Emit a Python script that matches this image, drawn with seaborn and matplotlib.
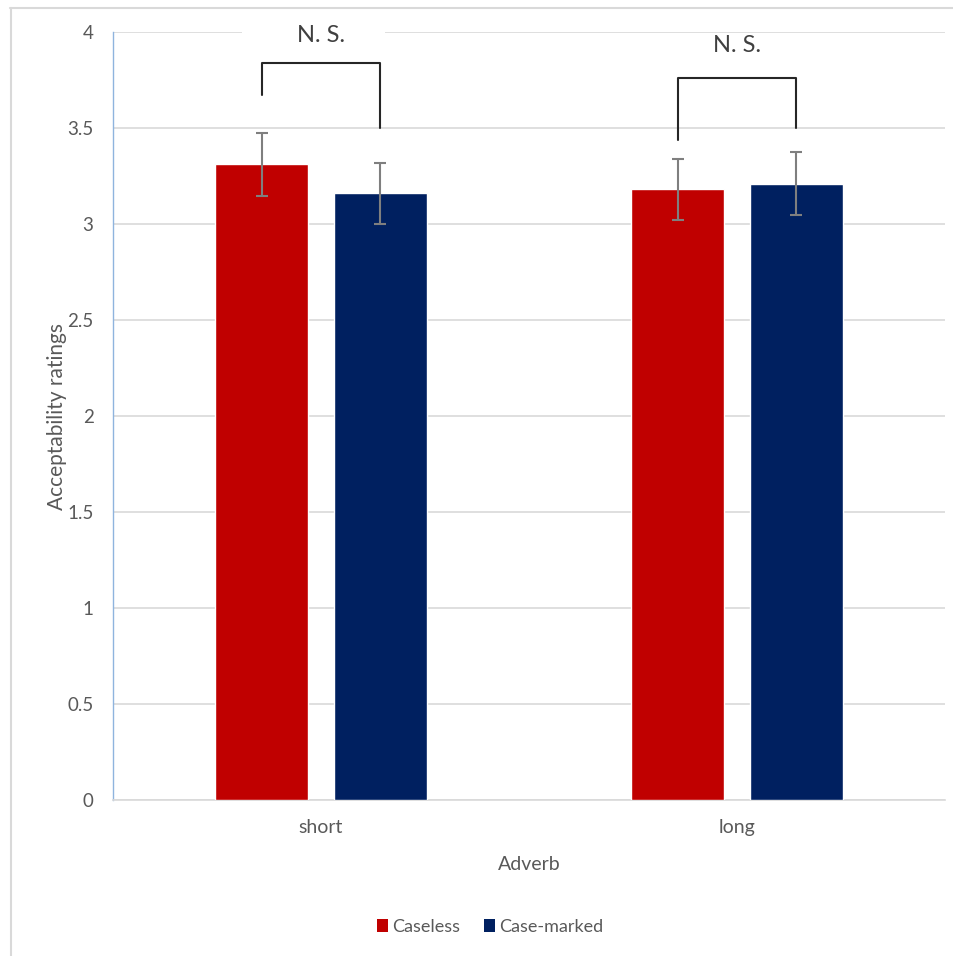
import pandas as pd
import seaborn as sns
import matplotlib.pyplot as plt
from matplotlib.lines import Line2D
from matplotlib.patches import Patch, Rectangle

# Acceptability ratings by adverb length and case marking
adverbs = ["short", "long"]
cases = ["Caseless", "Case-marked"]
caseless_means = [3.31, 3.18]
casemarked_means = [3.16, 3.21]
caseless_err = [0.165, 0.16]
casemarked_err = [0.16, 0.163]

# significance brackets: (left leg bottom, top, right leg bottom) per adverb
bracket_left = [3.67, 3.44]
bracket_top = [3.84, 3.76]
bracket_right = [3.50, 3.50]
sig_labels = ["N. S.", "N. S."]
sig_label_y = [3.98, 3.93]

colors = ["#C00000", "#002060"]
text_gray = "#595959"
grid_gray = "#D9D9D9"

df = pd.DataFrame({
    "Adverb": adverbs * 2,
    "case": [cases[0]] * 2 + [cases[1]] * 2,
    "rating": caseless_means + casemarked_means,
})
errs = [caseless_err, casemarked_err]

sns.set_style("white")
plt.rcParams["font.family"] = ["Lato", "DejaVu Sans"]

fig = plt.figure(figsize=(9.54, 9.56), dpi=100)
ax = fig.add_axes([113 / 954, 1 - 800 / 956, (945 - 113) / 954, (800 - 32) / 956])

sns.barplot(data=df, x="Adverb", y="rating", hue="case", hue_order=cases,
            order=adverbs, palette=colors, width=0.57, gap=0.215,
            errorbar=None, legend=False, saturation=1, ax=ax, zorder=3)

# error bars on each bar
bar_conts = list(ax.containers)
centers = []
for i, cont in enumerate(bar_conts):
    xs = [b.get_x() + b.get_width() / 2 for b in cont]
    ys = [b.get_height() for b in cont]
    centers.append(xs)
    ax.errorbar(xs, ys, yerr=errs[i], fmt="none", ecolor="#7F7F7F",
                elinewidth=1.5, capsize=4, capthick=1.5, zorder=4)

# N.S. brackets
for j in range(len(adverbs)):
    x0, x1 = centers[0][j], centers[1][j]
    ax.plot([x0, x0, x1, x1],
            [bracket_left[j], bracket_top[j], bracket_top[j], bracket_right[j]],
            color="#262626", lw=1.5, zorder=5, clip_on=False)
    ax.text(j, sig_label_y[j], sig_labels[j], ha="center", va="center",
            fontsize=17, color="#404040", zorder=6)

# white label box behind the first N. S. hides part of the top gridline
ax.add_patch(Rectangle((-0.19, 3.93), 0.345, 0.11, facecolor="white",
                       edgecolor="none", zorder=2, clip_on=False))

ax.set_ylim(0, 4)
ax.set_xlim(-0.5, 1.5)
ax.set_yticks([0, 0.5, 1, 1.5, 2, 2.5, 3, 3.5, 4])
ax.set_yticklabels(["0", "0.5", "1", "1.5", "2", "2.5", "3", "3.5", "4"])
ax.yaxis.grid(True, color=grid_gray, lw=1.2, zorder=0)
ax.set_axisbelow(True)
ax.tick_params(axis="y", length=0, pad=14, labelsize=13.5, labelcolor=text_gray)
ax.tick_params(axis="x", length=0, pad=14, labelsize=14, labelcolor=text_gray)
for s in ["top", "right"]:
    ax.spines[s].set_visible(False)
ax.spines["left"].set_color("#8FB4DE")
ax.spines["left"].set_linewidth(1.0)
ax.spines["bottom"].set_color(grid_gray)
ax.spines["bottom"].set_linewidth(1.2)

ax.set_xlabel("Adverb", fontsize=14, color=text_gray, labelpad=14)
ax.set_ylabel("Acceptability ratings", fontsize=15, color=text_gray, labelpad=0)

handles = [Patch(facecolor=c, edgecolor="none") for c in colors]
fig.legend(handles, cases, loc="center", bbox_to_anchor=(490 / 954, 1 - 927 / 956),
           ncol=2, frameon=False, fontsize=13, handlelength=0.6, handleheight=0.7,
           handletextpad=0.25, columnspacing=1.3, labelcolor=text_gray)

# outer chart frame (cropped at right/bottom)
fig.add_artist(Line2D([10 / 954, 1], [1 - 8 / 956, 1 - 8 / 956], color="#D9D9D9", lw=1.5))
fig.add_artist(Line2D([11 / 954, 11 / 954], [0, 1 - 8 / 956], color="#D9D9D9", lw=1.5))

fig.savefig("out.png", dpi=100)
